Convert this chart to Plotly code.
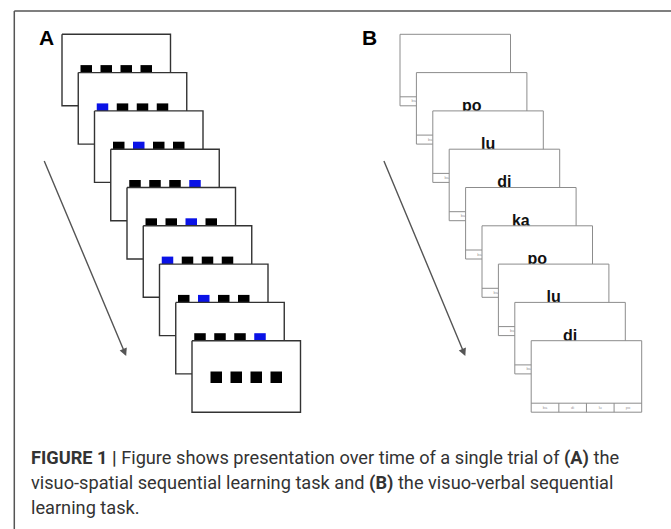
import plotly.graph_objects as go

# ---- data ----
highlight_A = [0, 1, 2, 4, 3, 1, 2, 4, 0]          # which of the 4 squares is blue (0 = none)
n_squares = 4
syllables_B = ["", "po", "lu", "di", "ka", "po", "lu", "di", ""]
button_labels = ["ba", "di", "lu", "po"]
caption_lines = [
    "<b>FIGURE 1 |</b> Figure shows presentation over time of a single trial of <b>(A)</b> the",
    "visuo-spatial sequential learning task and <b>(B)</b> the visuo-verbal sequential",
    "learning task.",
]

W, H = 671, 529

# ---- layout constants (pixel space) ----
A_x0, A_dx, A_w = 62.0, 16.25, 108.5
B_x0, B_dx, B_w = 400.0, 16.4, 110.5
y0, dy, card_h = 34.3, 38.3, 71.5
sq_gap = 20.0
btn_h = 9.0

fig = go.Figure()

def card_trace(l, t, w, h, color, width):
    return go.Scatter(x=[l, l + w, l + w, l, l], y=[t, t, t + h, t + h, t],
                      mode="lines", fill="toself", fillcolor="white",
                      line=dict(color=color, width=width), hoverinfo="skip",
                      showlegend=False)

# Panel A
for i, hl in enumerate(highlight_A):
    l = A_x0 + i * A_dx
    t = y0 + i * dy
    fig.add_trace(card_trace(l, t, A_w, card_h, "#333333", 1.4))
    cx, cy = l + A_w / 2, t + card_h / 2 + 0.8
    xs = [cx + (k - (n_squares - 1) / 2) * sq_gap for k in range(n_squares)]
    cols = ["#0a12e6" if (k + 1) == hl else "#000000" for k in range(n_squares)]
    fig.add_trace(go.Scatter(x=xs, y=[cy] * n_squares, mode="markers",
                             marker=dict(symbol="square", size=11.5, color=cols,
                                         line=dict(width=0)),
                             hoverinfo="skip", showlegend=False))

# Panel B
for i, syl in enumerate(syllables_B):
    l = B_x0 + i * B_dx
    t = y0 + i * dy
    b = t + card_h
    fig.add_trace(card_trace(l, t, B_w, card_h, "#8c8c8c", 1.0))
    bw = B_w / len(button_labels)
    bx, by = [l, l + B_w, None], [b - btn_h, b - btn_h, None]
    for k in range(1, len(button_labels)):
        bx += [l + k * bw, l + k * bw, None]
        by += [b - btn_h, b, None]
    fig.add_trace(go.Scatter(x=bx, y=by, mode="lines",
                             line=dict(color="#8c8c8c", width=1.0),
                             hoverinfo="skip", showlegend=False))
    fig.add_trace(go.Scatter(x=[l + (k + 0.5) * bw for k in range(len(button_labels))],
                             y=[b - btn_h / 2] * len(button_labels),
                             mode="text", text=button_labels,
                             textfont=dict(size=4, color="#999999", family="Liberation Sans"),
                             hoverinfo="skip", showlegend=False))
    if syl:
        fig.add_trace(go.Scatter(x=[l + B_w / 2], y=[t + card_h / 2 - 1.5], mode="text",
                                 text=[syl],
                                 textfont=dict(size=16, color="#111111",
                                               family="Liberation Sans", weight="bold"),
                                 hoverinfo="skip", showlegend=False))

# arrows
for (xs, ys, xe, ye) in [(43.6, 159.5, 126.2, 356.0), (383.3, 159.5, 465.3, 356.0)]:
    fig.add_annotation(x=xe, y=ye, ax=xs, ay=ys, xref="x", yref="y", axref="x", ayref="y",
                       showarrow=True, arrowhead=2, arrowsize=1.1, arrowwidth=1.4,
                       arrowcolor="#555555", text="")

# panel labels
for lab, x in [("A", 46.5), ("B", 369.5)]:
    fig.add_annotation(x=x, y=37, xref="x", yref="y", text="<b>" + lab + "</b>",
                       showarrow=False, xanchor="center", yanchor="middle",
                       font=dict(size=21, color="#000000", family="Liberation Sans"))

# caption
for j, line in enumerate(caption_lines):
    fig.add_annotation(x=29, y=445 + j * 25, xref="x", yref="y", text=line,
                       showarrow=False, xanchor="left", yanchor="top", align="left",
                       font=dict(size=18.2, color="#333333", family="Roboto, Liberation Sans"))

# frame
fig.add_shape(type="line", x0=14.3, y0=11, x1=W, y1=11, line=dict(color="#555555", width=1.5))
fig.add_shape(type="line", x0=14.3, y0=11, x1=14.3, y1=H, line=dict(color="#555555", width=1.5))

fig.update_layout(width=W, height=H, autosize=False,
                  margin=dict(l=0, r=0, t=0, b=0),
                  paper_bgcolor="white", plot_bgcolor="white",
                  showlegend=False,
                  xaxis=dict(range=[0, W], visible=False, fixedrange=True),
                  yaxis=dict(range=[H, 0], visible=False, fixedrange=True))

fig.write_html("out.html", config={"displayModeBar": False},
               post_script="document.body.style.margin='0px';"
                           "document.body.style.padding='0px';"
                           "document.body.style.overflow='hidden';")
